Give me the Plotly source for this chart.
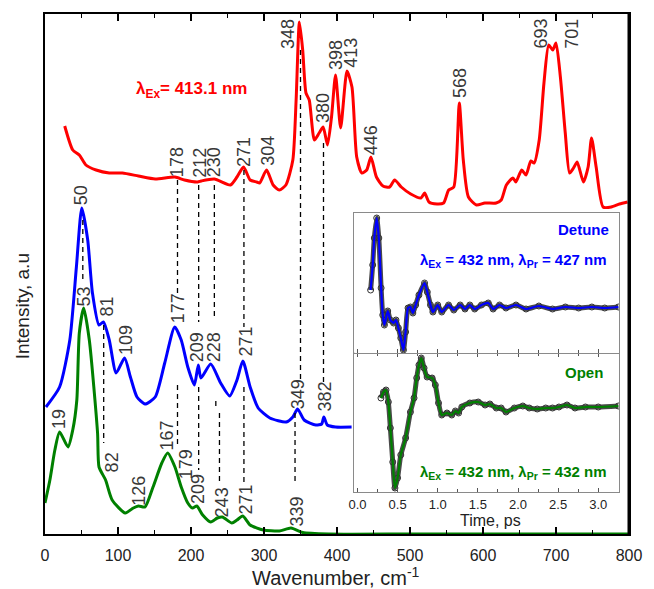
import plotly.graph_objects as go

# ---------------- data (intensity in arbitrary units) ----------------
red_wn = [27, 38, 47, 56, 70, 88, 106, 128, 151, 178, 191, 209, 214, 232, 254, 263, 272, 281, 290, 294,
          303.5, 312.5, 321, 330, 339.5, 344, 348.5, 353, 357.5, 362, 369, 375.5, 381, 387, 392.5, 398, 405,
          413.7, 420.5, 427, 434, 440.7, 446.5, 454, 463, 472, 479, 488, 501, 515, 520, 526, 537, 546, 553,
          560, 567.5, 573, 580, 591, 602.5, 618, 625, 632, 641, 645, 653, 659, 665.5, 670, 677, 683.5, 690,
          695.5, 700, 706, 712.7, 718.6, 724, 729, 737.5, 744, 748.7, 755, 764.5, 775.7, 787, 798]
red_int = [408, 384, 379, 369, 364, 361, 361, 358, 355, 357, 354, 352, 353, 355, 349, 357, 367, 354, 352, 351,
           364, 349, 344, 349, 374, 434, 512, 484, 441, 434, 394, 401, 407, 389, 417, 459, 406,
           463, 447, 377, 361, 364, 377, 357, 348, 347, 354, 347, 340, 336, 341, 332, 330, 331, 344,
           347, 431, 374, 337, 329, 331, 331, 334, 349, 356, 352, 364, 359, 373, 371, 394, 451, 489,
           484, 491, 457, 401, 361, 366, 372, 352, 367, 396, 367, 327, 327, 330, 332]

blue_wn = [1.3, 20, 34, 43, 50.4, 58.5, 65, 74, 80, 88, 97.5, 109, 117, 126, 137, 151, 164, 177.7, 186.6,
           195.6, 204.6, 210, 213.6, 227, 240.6, 253, 263, 271, 281, 292, 308, 330.5, 339.5, 346, 355, 371,
           379, 382, 386.7, 398, 420]
blue_int = [127, 147, 194, 267, 326, 294, 241, 209, 212, 194, 161, 176, 157, 137, 130, 137, 171, 207, 194,
            167, 149, 169, 156, 170, 151, 138, 154, 173, 147, 126, 116, 112, 117, 125, 114, 109,
            110, 117, 109, 107, 107]

green_wn = [0, 6.7, 13.5, 20, 31.5, 38, 43.6, 47, 53, 60.7, 72, 74, 83, 92, 110, 121, 128, 137, 148, 160,
            168, 178, 186.6, 195.6, 202, 208, 216, 227, 236, 243, 256, 263, 271, 281, 299, 321, 337, 353,
            389, 500, 650, 800]
green_int = [31, 54, 84, 102, 87, 104, 134, 201, 226, 194, 101, 67, 54, 34, 21, 26, 28, 27, 47, 71,
             81, 67, 47, 31, 26, 28, 19, 12, 16, 17, 11, 14, 18, 9, 4, 3, 6, 1.5,
             0, 0, 0, 0]

# peak labels: (text, wavenumber position, intensity level)
red_labels = [("178", 181, 372), ("212", 212, 371), ("230", 232, 372), ("271", 272.5, 382),
              ("304", 305, 383), ("348", 333, 500), ("380", 380.7, 426), ("398", 398.6, 479),
              ("413", 419, 481), ("446", 447, 394), ("568", 568.5, 451), ("693", 680, 501),
              ("701", 721.6, 500)]
blue_labels = [("50", 49.6, 339), ("81", 85.5, 228), ("109", 111, 194), ("177", 182.4, 226),
               ("209", 208.5, 187), ("228", 232, 187), ("271", 274.7, 192), ("349", 347, 140),
               ("382", 383, 137)]
green_labels = [("19", 19.3, 115), ("53", 54, 238), ("82", 92.3, 72), ("126", 128.4, 43),
                ("167", 166.6, 98), ("179", 193.6, 70), ("209", 209.5, 45), ("243", 243, 32),
                ("271", 274.7, 34), ("339", 344.6, 22)]

# dashed correlation lines: (x0, y0, x1, y1) in wavenumber / intensity
dash_segments = [(181.5, 354, 181.5, 239), (181.5, 149, 181.5, 87),
                 (210.5, 349, 210.5, 212), (210.5, 147, 210.5, 64),
                 (232, 349, 232, 216), (234, 133, 234, 128), (239, 121, 239, 49),
                 (272.5, 364, 272.5, 207), (272.5, 147, 272.5, 52),
                 (350, 484, 350, 154), (342.5, 121, 342.5, 51),
                 (381.5, 391, 381.5, 152),
                 (80.4, 209, 80.4, 91),
                 (51.8, 314, 51.8, 252)]

# inset: time traces
det_t = [0.164, 0.19, 0.21, 0.24, 0.266, 0.295, 0.315, 0.336, 0.377, 0.41, 0.45, 0.48, 0.51, 0.54, 0.573,
         0.60, 0.63, 0.66, 0.69, 0.725, 0.766, 0.836, 0.87, 0.91, 0.94, 1.0, 1.05, 1.135, 1.20, 1.28, 1.34,
         1.40, 1.46, 1.545, 1.63, 1.69, 1.77, 1.85, 1.975, 2.10, 2.26, 2.43, 2.59, 2.755, 2.92, 3.08, 3.25]
det_v = [63, 88, 115, 135, 115, 65, 38, 28, 42, 33, 30, 33, 25, 15, 3,
         21, 45, 46, 40, 48, 58, 70, 61, 48, 41, 48, 41, 48, 43, 48, 44,
         48, 44, 48, 50, 44, 48, 45, 48, 44, 47, 44, 46, 45, 46, 45, 46]
open_t = [0.293, 0.325, 0.356, 0.385, 0.41, 0.44, 0.467, 0.50, 0.54, 0.60, 0.66, 0.705, 0.738, 0.766, 0.795,
          0.83, 0.868, 0.93, 0.97, 1.01, 1.05, 1.115, 1.175, 1.22, 1.26, 1.30, 1.40, 1.505, 1.59, 1.65,
          1.73, 1.79, 1.85, 1.955, 2.06, 2.14, 2.24, 2.345, 2.43, 2.51, 2.61, 2.71, 2.84, 3.0, 3.25]
open_v = [94, 100, 102, 90, 64, 30, 4, 14, 37, 54, 80, 94, 114, 127, 134,
          124, 115, 114, 107, 89, 77, 79, 77, 81, 79, 85, 89, 90, 87, 88,
          84, 84, 80, 84, 86, 84, 83, 84, 84, 85, 87, 84, 85, 85, 86]

# ---------------- figure ----------------
W, H = 654, 589
L, R, T, B = 45, 16, 14, 55
PW, PH = W - L - R, H - T - B


def px(xp):
    return (xp - L) / PW


def py(yp):
    return (H - B - yp) / PH


RED, BLUE, GREEN = "#ff0000", "#0000ff", "#008000"
LBL = "#383838"
FONT = "Arial, Liberation Sans, sans-serif"

fig = go.Figure()

shapes = []
for x0, y0, x1, y1 in dash_segments:
    shapes.append(dict(type="line", xref="x", yref="y", x0=x0, y0=y0, x1=x1, y1=y1,
                       line=dict(color="black", width=1.3, dash="5px,4px"), layer="above"))
# heavier right frame edge of the main plot
shapes.append(dict(type="line", xref="paper", yref="paper", x0=1, y0=0, x1=1, y1=1,
                   line=dict(color="black", width=3), layer="above"))

fig.add_trace(go.Scatter(x=green_wn, y=green_int, mode="lines", line=dict(color=GREEN, width=3, shape="spline", smoothing=0.6),
                         xaxis="x", yaxis="y", showlegend=False))
fig.add_trace(go.Scatter(x=blue_wn, y=blue_int, mode="lines", line=dict(color=BLUE, width=3, shape="spline", smoothing=0.6),
                         xaxis="x", yaxis="y", showlegend=False))
fig.add_trace(go.Scatter(x=red_wn, y=red_int, mode="lines", line=dict(color=RED, width=3, shape="spline", smoothing=0.6),
                         xaxis="x", yaxis="y", showlegend=False))

# inset traces: halo, markers, colored line
for t, v, col, xa, ya in [(det_t, det_v, BLUE, "x3", "y2"), (open_t, open_v, GREEN, "x2", "y3")]:
    fig.add_trace(go.Scatter(x=t, y=v, mode="lines", line=dict(color="#4a4a4a", width=5, shape="spline", smoothing=0.6),
                             xaxis=xa, yaxis=ya, showlegend=False))
    fig.add_trace(go.Scatter(x=t, y=v, mode="markers",
                             marker=dict(symbol="circle-open", size=6, color="#333333", line=dict(width=1)),
                             xaxis=xa, yaxis=ya, showlegend=False))
    fig.add_trace(go.Scatter(x=t, y=v, mode="lines", line=dict(color=col, width=2.2, shape="spline", smoothing=0.6),
                             xaxis=xa, yaxis=ya, showlegend=False))

ann = []
for labels in (red_labels, blue_labels, green_labels):
    for txt, x, y in labels:
        ann.append(dict(x=x, y=y, xref="x", yref="y", text=txt, textangle=-90, showarrow=False,
                        xanchor="center", yanchor="middle", font=dict(size=18, color=LBL, family=FONT)))

ann.append(dict(x=px(194), y=py(90), xref="paper", yref="paper", showarrow=False,
                text="<b>λ<sub>Ex</sub>= 413.1 nm</b>", font=dict(size=17, color=RED, family=FONT),
                xanchor="center", yanchor="middle"))
ann.append(dict(x=px(620), y=py(229), xref="paper", yref="paper", showarrow=False,
                text="<b>Detune</b>", font=dict(size=15, color=BLUE, family=FONT), xanchor="right", yanchor="middle"))
ann.append(dict(x=px(618), y=py(260), xref="paper", yref="paper", showarrow=False,
                text="<b>λ<sub>Ex</sub> = 432 nm, λ<sub>Pr</sub> = 427 nm</b>", font=dict(size=15, color=BLUE, family=FONT),
                xanchor="right", yanchor="middle"))
ann.append(dict(x=px(614), y=py(372), xref="paper", yref="paper", showarrow=False,
                text="<b>Open</b>", font=dict(size=15, color=GREEN, family=FONT), xanchor="right", yanchor="middle"))
ann.append(dict(x=px(618), y=py(472), xref="paper", yref="paper", showarrow=False,
                text="<b>λ<sub>Ex</sub> = 432 nm, λ<sub>Pr</sub> = 432 nm</b>", font=dict(size=15, color=GREEN, family=FONT),
                xanchor="right", yanchor="middle"))
ann.append(dict(x=px(497), y=py(520), xref="paper", yref="paper", showarrow=False,
                text="Time, ps", font=dict(size=16, color="#222", family=FONT), xanchor="center", yanchor="middle"))
ann.append(dict(x=px(340), y=py(576), xref="paper", yref="paper", showarrow=False,
                text="Wavenumber, cm<sup>-1</sup>", font=dict(size=20, color="#222", family=FONT),
                xanchor="center", yanchor="middle"))
ann.append(dict(x=px(22), y=py(306), xref="paper", yref="paper", showarrow=False, textangle=-90,
                text="Intensity, a.u", font=dict(size=19, color="#222", family=FONT),
                xanchor="center", yanchor="middle"))

ix0, ix1 = px(359), px(628)
ytop, ymid, ybot = py(213), py(353), py(492)

fig.update_layout(
    width=W, height=H, margin=dict(l=L, r=R, t=T, b=B),
    paper_bgcolor="white", plot_bgcolor="white",
    font=dict(family=FONT, color="#222"),
    shapes=shapes, annotations=ann,
    xaxis=dict(domain=[0, 1], range=[0, 800], anchor="y", showgrid=False, zeroline=False,
               showline=True, linecolor="black", linewidth=2, mirror="ticks",
               ticks="inside", ticklen=7, tickwidth=1.5, tickcolor="black", dtick=100, tick0=0,
               minor=dict(ticks="inside", ticklen=4, tickwidth=1.2, dtick=50, tickcolor="black"),
               tickfont=dict(size=16, color="#222"), ticklabelstandoff=6),
    yaxis=dict(domain=[0, 1], range=[0, 520], anchor="x", showgrid=False, zeroline=False,
               showline=True, linecolor="black", linewidth=2, mirror=True, showticklabels=False, ticks=""),
    xaxis2=dict(domain=[ix0, ix1], range=[-0.04, 3.26], anchor="y3", showgrid=False, zeroline=False,
                showline=True, linecolor="#8a8a8a", linewidth=1, mirror="ticks",
                ticks="inside", ticklen=4, tickwidth=1, tickcolor="#555", dtick=0.5, tick0=0, tickformat=".1f",
                minor=dict(ticks="inside", ticklen=3, dtick=0.25, tickcolor="#555"),
                tickfont=dict(size=13, color="#222"), ticklabelstandoff=0),
    xaxis3=dict(domain=[ix0, ix1], range=[-0.04, 3.26], anchor="y2", matches="x2", showgrid=False, zeroline=False,
                showline=True, linecolor="#8a8a8a", linewidth=1, mirror=True, showticklabels=False,
                ticks="inside", ticklen=4, tickwidth=1, tickcolor="#555", dtick=0.5, tick0=0,
                minor=dict(ticks="inside", ticklen=3, dtick=0.25, tickcolor="#555")),
    yaxis2=dict(domain=[ymid, ytop], range=[0, 140], anchor="x3", showgrid=False, zeroline=False,
                showline=True, linecolor="#8a8a8a", linewidth=1, mirror=True, showticklabels=False, ticks=""),
    yaxis3=dict(domain=[ybot, ymid], range=[0, 139], anchor="x2", showgrid=False, zeroline=False,
                showline=True, linecolor="#8a8a8a", linewidth=1, mirror=True, showticklabels=False, ticks=""),
)

fig.write_html("out.html")
